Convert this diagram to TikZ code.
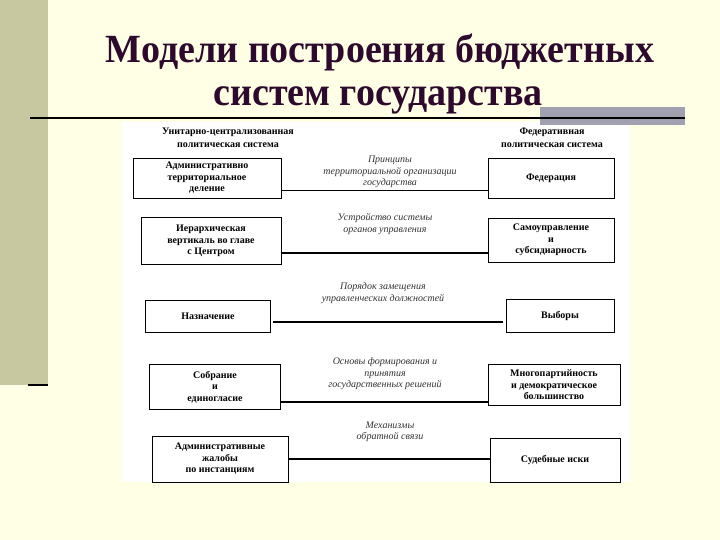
\documentclass[tikz,border=0pt]{standalone}
\usepackage{fontspec}
\setmainfont{Liberation Serif}
\definecolor{barc}{RGB}{200,200,160}
\definecolor{grayr}{RGB}{160,160,176}
\definecolor{titc}{RGB}{45,10,45}
\definecolor{bgc}{RGB}{255,255,229}
\begin{document}
\begin{tikzpicture}[x=1pt,y=-1pt,
  bx/.style={draw,line width=0.8pt,fill=white,minimum height=40pt,align=center,font=\bfseries\fontsize{10}{11.5}\selectfont,inner sep=2pt},
  lab/.style={align=center,font=\itshape\fontsize{10}{11.5}\selectfont,text=black!80},
  hd/.style={align=center,font=\bfseries\fontsize{10}{12.5}\selectfont},
  tt/.style={font=\bfseries\fontsize{40}{44}\selectfont,text=titc,xscale=0.95},
  ln/.style={line width=0.8pt},
  tk/.style={line width=1.6pt}]
\useasboundingbox (0,0) rectangle (720,540);
\fill[bgc] (0,0) rectangle (720,540);
\fill[barc] (0,0) rectangle (48,385);
\draw[line width=2pt] (28,385) -- (48,385);
\fill[white] (122,122) rectangle (630,482);
\fill[grayr] (540,107) rectangle (685,125);
\draw[line width=2pt] (30,118) -- (685,118);
\node[tt] (t1) at (380,52) {Модели построения бюджетных};
\node[tt] (t2) at (378,100) {систем государства};
\node[hd] (hl) at (228,138) {Унитарно-централизованная\\политическая система};
\node[hd] (hr) at (552,138) {Федеративная\\политическая система};
% row 1
\node[bx,minimum width=148pt] (l1) at (207,178) {Административно\\территориальное\\деление};
\node[bx,minimum width=126pt] (r1) at (551,178) {Федерация};
\draw[ln] (l1.east|-0,190) -- (r1.west|-0,190);
\node[lab] (m1) at (390,172) {Принципы\\территориальной организации\\государства};
% row 2
\node[bx,minimum width=140pt,minimum height=47pt] (l2) at (211,241) {Иерархическая\\вертикаль во главе\\с Центром};
\node[bx,minimum width=126pt,minimum height=44pt] (r2) at (551,240) {Самоуправление\\и\\субсидиарность};
\draw[tk] (l2.east|-0,253) -- (r2.west|-0,253);
\node[lab] (m2) at (385,224) {Устройство системы\\органов управления};
% row 3
\node[bx,minimum width=125pt,minimum height=32pt] (l3) at (208,316) {Назначение};
\node[bx,minimum width=108pt,minimum height=33pt] (r3) at (560,316) {Выборы};
\draw[tk] (273,322) -- (503,322);
\node[lab] (m3) at (383,293) {Порядок замещения\\управленческих должностей};
% row 4
\node[bx,minimum width=131pt,minimum height=45pt] (l4) at (215,387) {Собрание\\и\\единогласие};
\node[bx,minimum width=132pt,minimum height=41pt] (r4) at (554,385) {Многопартийность\\и демократическое\\большинство};
\draw[tk] (l4.east|-0,402) -- (r4.west|-0,402);
\node[lab] (m4) at (385,374) {Основы формирования и\\принятия\\государственных решений};
% row 5
\node[bx,minimum width=136pt,minimum height=46pt] (l5) at (220,459) {Административные\\жалобы\\по инстанциям};
\node[bx,minimum width=130pt,minimum height=44pt] (r5) at (555,460) {Судебные иски};
\draw[tk] (l5.east|-0,459) -- (r5.west|-0,459);
\node[lab] (m5) at (390,432) {Механизмы\\обратной связи};
\end{tikzpicture}
\end{document}
